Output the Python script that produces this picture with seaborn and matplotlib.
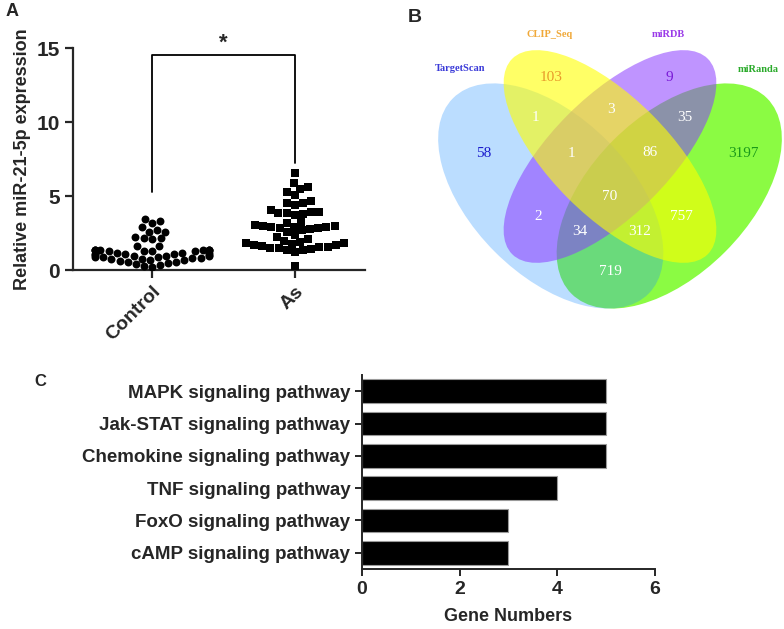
import pandas as pd
import matplotlib.pyplot as plt
from matplotlib.patches import Ellipse
import seaborn as sns

# ==============================
# Data
# ==============================

GROUPS = ["Control", "As"]

CONTROL_VALUES = [
    3.43, 3.31, 3.15, 2.93, 2.70, 2.59, 2.59, 2.25, 2.14, 2.14, 2.10,
    1.62, 1.62, 1.35, 1.35, 1.34, 1.34, 1.33, 1.33, 1.32, 1.32, 1.31,
    1.31, 1.30, 1.30, 1.18, 1.15, 1.12, 1.10, 1.08, 1.05, 1.02, 1.00,
    0.98, 0.95, 0.92, 0.90, 0.88, 0.85, 0.82, 0.80, 0.77, 0.74, 0.70,
    0.66, 0.62, 0.57, 0.52, 0.46, 0.40, 0.33, 0.25, 0.18,
]

AS_VALUES = [
    6.58, 5.86, 5.63, 5.50, 5.29, 5.07, 4.68, 4.50, 4.50, 4.39, 4.05,
    3.94, 3.94, 3.83, 3.83, 3.78, 3.72, 3.25, 3.15, 3.05, 3.00, 2.97,
    2.94, 2.91, 2.88, 2.85, 2.82, 2.78, 2.70, 2.55, 2.40, 2.25, 2.10,
    1.98, 1.92, 1.85, 1.80, 1.75, 1.70, 1.66, 1.62, 1.58, 1.54, 1.50,
    1.46, 1.42, 1.38, 1.32, 1.25, 0.27,
]

VENN_SETS = ["TargetScan", "CLIP_Seq", "miRDB", "miRanda"]
VENN_COUNTS = [58, 103, 9, 3197, 1, 3, 35, 1, 86, 70, 2, 757, 34, 312, 719]

PATHWAYS = [
    "MAPK signaling pathway",
    "Jak-STAT signaling pathway",
    "Chemokine signaling pathway",
    "TNF signaling pathway",
    "FoxO signaling pathway",
    "cAMP signaling pathway",
]
GENE_NUMBERS = [5, 5, 5, 4, 3, 3]

# ==============================
# Layout / style
# ==============================

FONT = ["Liberation Sans", "DejaVu Sans"]
SERIF = ["Liberation Serif", "DejaVu Serif"]

# ellipses in panel-B pixel space: centre, width, height, angle, colour, alpha
VENN_SHAPES = {
    "miRanda": ((669.25, 196.0), 276.5, 158.0, -45, "#6efa14", 0.8),
    "TargetScan": ((550.75, 196.0), 276.5, 158.0, 45, "#1e90ff", 0.3),
    "miRDB": ((610.0, 156.5), 276.5, 118.5, -45, "#8c3cff", 0.55),
    "CLIP_Seq": ((610.0, 156.5), 276.5, 118.5, 45, "#ffff00", 0.6),
}
VENN_NAME_POS = [(460, 69), (550, 35), (668, 35), (758, 70)]
VENN_NAME_COLORS = ["#3a3ad8", "#f0a838", "#9a3ae8", "#2aaa2a"]
VENN_COUNT_POS = [
    (484, 154), (551, 78), (669, 78), (743, 154), (535, 118), (611, 110),
    (685, 118), (571, 154), (650, 153), (610, 197), (538, 217), (681, 217),
    (580, 232), (640, 232), (610, 272),
]
VENN_COUNT_COLORS = ["#1a1acc", "#e89a2a", "#7a1ad6", "#1a9a1a"] + ["white"] * 11


def draw_scatter(ax):
    """
    Panel A: scatter dot plot of relative expression.
    """
    ctrl = pd.DataFrame({"group": GROUPS[0], "value": CONTROL_VALUES})
    treat = pd.DataFrame({"group": GROUPS[1], "value": AS_VALUES})

    sns.swarmplot(data=ctrl, x="group", y="value", order=GROUPS,
                  marker="o", color="black", size=5.7, ax=ax)
    sns.swarmplot(data=treat, x="group", y="value", order=GROUPS,
                  marker="s", color="black", size=5.7, ax=ax)

    ax.set_xlim(-0.552, 1.49)
    ax.set_ylim(0, 15)
    ax.set_yticks([0, 5, 10, 15])
    ax.set_xlabel("")
    ax.set_ylabel("Relative miR-21-5p expression", fontsize=13,
                  fontweight="bold", labelpad=4)
    ax.set_xticks([0, 1])
    ax.set_xticklabels(GROUPS, rotation=45, ha="right",
                       rotation_mode="anchor", fontsize=14, fontweight="bold")
    for lab in ax.get_yticklabels():
        lab.set_fontsize(15)
        lab.set_fontweight("bold")

    sns.despine(ax=ax)
    for side in ["left", "bottom"]:
        ax.spines[side].set_linewidth(1.6)
    ax.tick_params(width=1.6, length=6)

    # significance bracket
    ax.plot([0, 0, 1, 1], [5.3, 14.5, 14.5, 7.2], color="black",
            lw=1.3, clip_on=False)
    ax.text(0.5, 15.3, "*", ha="center", va="center", fontsize=16,
            fontweight="bold")


def draw_venn(ax):
    """
    Panel B: four-set Venn diagram.
    """
    for name in ["miRanda", "TargetScan", "miRDB", "CLIP_Seq"]:
        center, w, h, ang, col, alpha = VENN_SHAPES[name]
        ax.add_patch(Ellipse(center, w, h, angle=ang, facecolor=col,
                             edgecolor="none", alpha=alpha))

    for name, pos, col in zip(VENN_SETS, VENN_NAME_POS, VENN_NAME_COLORS):
        ax.text(pos[0], pos[1], name, color=col, fontsize=7.5,
                fontweight="bold", family=SERIF, ha="center", va="center")

    for count, pos, col in zip(VENN_COUNTS, VENN_COUNT_POS, VENN_COUNT_COLORS):
        ax.text(pos[0], pos[1], str(count), color=col, fontsize=11,
                family=SERIF, ha="center", va="center")

    ax.set_xlim(400, 784)
    ax.set_ylim(320, 0)
    ax.axis("off")


def draw_pathways(ax):
    """
    Panel C: KEGG pathway gene counts.
    """
    df = pd.DataFrame({"pathway": PATHWAYS, "genes": GENE_NUMBERS})
    sns.barplot(data=df, x="genes", y="pathway", color="black",
                width=0.73, edgecolor="#9a9a9a", linewidth=0.8, ax=ax)

    ax.set_xlim(0, 6)
    ax.set_ylim(5.5, -0.5)
    ax.set_xticks([0, 2, 4, 6])
    ax.set_ylabel("")
    ax.set_xlabel("Gene Numbers", fontsize=13, fontweight="bold", labelpad=7)
    for lab in ax.get_xticklabels():
        lab.set_fontsize(14)
        lab.set_fontweight("bold")
    for lab in ax.get_yticklabels():
        lab.set_fontsize(13.5)
        lab.set_fontweight("bold")

    sns.despine(ax=ax)
    for side in ["left", "bottom"]:
        ax.spines[side].set_linewidth(1.4)
    ax.tick_params(width=1.4, length=5)


def main():
    sns.set_style("ticks")
    plt.rcParams["font.family"] = FONT

    fig = plt.figure(figsize=(7.84, 6.29), dpi=100)

    ax_a = fig.add_axes([0.0931, 0.5707, 0.3724, 0.3529])
    ax_b = fig.add_axes([0.5102, 0.4913, 0.4898, 0.5087])
    ax_c = fig.add_axes([0.4617, 0.0954, 0.3737, 0.3084])

    draw_scatter(ax_a)
    draw_venn(ax_b)
    draw_pathways(ax_c)

    fig.text(12 / 784, 1 - 12 / 629, "A", fontsize=13, fontweight="bold",
             ha="center", va="center")
    fig.text(415 / 784, 1 - 17 / 629, "B", fontsize=14, fontweight="bold",
             ha="center", va="center")
    fig.text(40 / 784, 1 - 382 / 629, "C", fontsize=12, fontweight="bold",
             ha="center", va="center")

    fig.savefig("out.png", dpi=100)
    plt.close(fig)


if __name__ == "__main__":
    main()
